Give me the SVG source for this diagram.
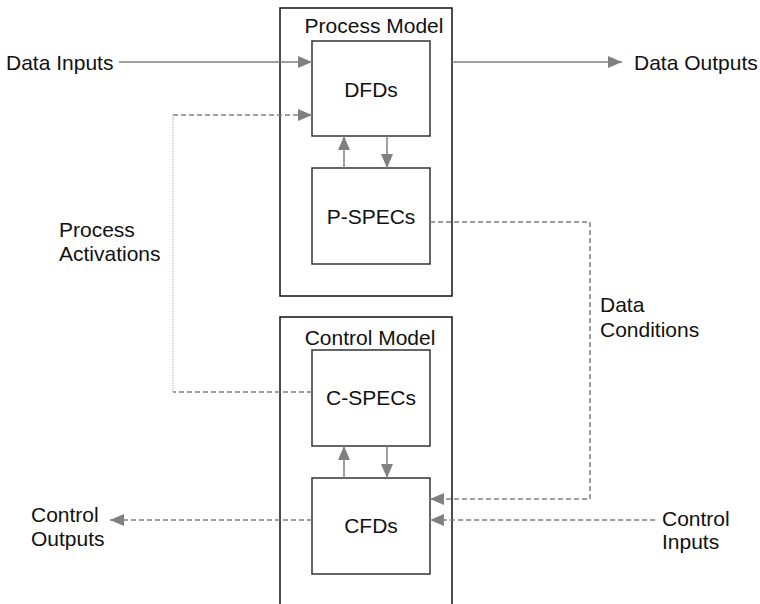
<svg xmlns="http://www.w3.org/2000/svg" width="760" height="604" viewBox="0 0 760 604">
<defs>
<marker id="ah" viewBox="0 0 14 12" refX="14" refY="6" markerWidth="14" markerHeight="12" markerUnits="userSpaceOnUse" orient="auto">
<path d="M0,0 L14,6 L0,12 Z" fill="#808080"/>
</marker>
<style>
text{font-family:"Liberation Sans",Arial,Helvetica,sans-serif;font-size:21px;fill:#111}
.outer{fill:#fff;stroke:#111;stroke-width:1.5}
.inner{fill:#fff;stroke:#333;stroke-width:1.5}
.c{fill:none;stroke:#808080;stroke-width:1.5}
.d{stroke-dasharray:5 3}
.dot{fill:none;stroke:#aaa;stroke-width:1;stroke-dasharray:1 1}
.mid{text-anchor:middle}
</style>
</defs>
<rect width="760" height="604" fill="#fff"/>
<g id="process-model">
<rect class="outer" x="280" y="8" width="172" height="288"/>
<text class="mid" x="374" y="33">Process Model</text>
</g>
<g id="control-model">
<path class="outer" d="M280,610 L280,317 L452,317 L452,610"/>
<text class="mid" x="370" y="345">Control Model</text>
</g>
<g id="dfds">
<rect class="inner" x="312" y="41" width="118" height="95"/>
<text class="mid" x="371" y="97">DFDs</text>
</g>
<g id="pspecs">
<rect class="inner" x="312" y="168" width="118" height="96"/>
<text class="mid" x="371" y="224">P-SPECs</text>
</g>
<g id="cspecs">
<rect class="inner" x="312" y="350" width="118" height="96"/>
<text class="mid" x="371" y="405">C-SPECs</text>
</g>
<g id="cfds">
<rect class="inner" x="312" y="478" width="118" height="96"/>
<text class="mid" x="371" y="533">CFDs</text>
</g>
<g id="labels">
<text x="6" y="70">Data Inputs</text>
<text x="634" y="70">Data Outputs</text>
<text x="59" y="237">Process</text>
<text x="59" y="261">Activations</text>
<text x="600" y="312">Data</text>
<text x="600" y="337">Conditions</text>
<text x="31" y="522">Control</text>
<text x="31" y="546">Outputs</text>
<text x="662" y="526">Control</text>
<text x="662" y="549">Inputs</text>
</g>
<g id="connectors">
<line class="c" x1="119" y1="62" x2="312" y2="62" marker-end="url(#ah)"/>
<line class="c" x1="452" y1="62" x2="622" y2="62" marker-end="url(#ah)"/>
<line class="c" x1="344" y1="168" x2="344" y2="136" marker-end="url(#ah)"/>
<line class="c" x1="387" y1="136" x2="387" y2="168" marker-end="url(#ah)"/>
<line class="c" x1="344" y1="478" x2="344" y2="446" marker-end="url(#ah)"/>
<line class="c" x1="387" y1="446" x2="387" y2="478" marker-end="url(#ah)"/>
<line class="c d" x1="312" y1="392" x2="173" y2="392"/>
<line class="dot" x1="173" y1="392" x2="173" y2="115"/>
<line class="c d" x1="173" y1="115" x2="312" y2="115" marker-end="url(#ah)"/>
<polyline class="c d" points="430,222 590,222 590,499 430,499" marker-end="url(#ah)"/>
<line class="c d" x1="655" y1="520" x2="430" y2="520" marker-end="url(#ah)"/>
<line class="c d" x1="312" y1="520" x2="110" y2="520" marker-end="url(#ah)"/>
</g>
</svg>
